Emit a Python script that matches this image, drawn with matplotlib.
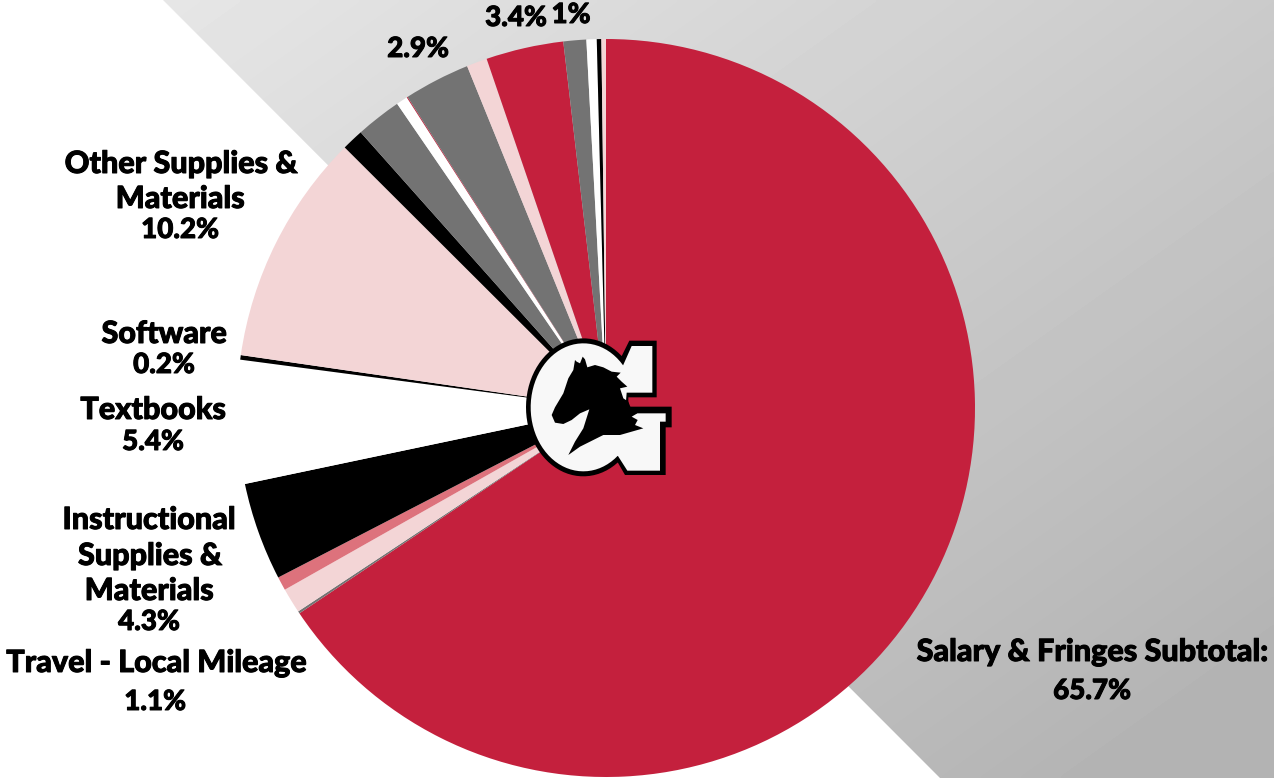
import matplotlib
matplotlib.use("Agg")
import matplotlib.pyplot as plt
import matplotlib.patheffects as pe
from matplotlib.patches import Polygon
import numpy as np

# slices clockwise from 12 o'clock
categories = ["Salary & Fringes", "Other Salary", "Travel - Local Mileage", "Travel - Other",
              "Instructional Supplies & Materials", "Textbooks", "Software",
              "Other Supplies & Materials", "Equipment", "Services A", "Services B", "Services C",
              "Services D", "Services E", "Services F", "Services G", "Services H", "Services I",
              "Services J"]
values = [65.7, 0.1, 1.1, 0.6, 4.3, 5.4, 0.2, 10.2, 0.95, 2.0, 0.5, 0.04, 2.9, 0.9, 3.4, 1.0, 0.45, 0.2, 0.2]
RED, PINK, ROSE, GREY = "#c4203d", "#f3d5d6", "#dd727c", "#737373"
slice_colors = [RED, GREY, PINK, ROSE, "black", "white", "black", PINK, "black", GREY,
                "white", RED, GREY, PINK, RED, GREY, "white", "black", PINK]

label_texts = ["Other Supplies &", "Materials", "10.2%", "Software", "0.2%", "Textbooks", "5.4%",
               "Instructional", "Supplies &", "Materials", "4.3%", "Travel - Local Mileage", "1.1%",
               "Salary & Fringes Subtotal:", "65.7%", "2.9%", "3.4%", "1%"]
label_x = [181, 180, 180, 164, 164, 153, 153, 149, 150, 149, 149, 156, 155, 1092, 1092, 418, 516, 571]
label_y = [164, 199, 230, 334, 365, 410, 442, 520, 556, 591, 622, 663, 702, 652, 691, 49, 18, 15]

W, H = 1274, 778

fig = plt.figure(figsize=(W / 100, H / 100), dpi=100, facecolor="white")
ax = fig.add_axes([0, 0, 1, 1])

# grey backdrop, everything right of the diagonal, y counted from the top
xx, yy = np.meshgrid(np.linspace(0, W, 320), np.linspace(0, H, 200))
shade = np.clip(230 - 0.025 * (xx - 163) - 0.035 * yy, 179, 235)
img = ax.imshow(shade, extent=[0, W, 0, H], cmap="gray", vmin=0, vmax=255, origin="upper",
                interpolation="bilinear", zorder=0)
clip = Polygon([(163, H), (W, H), (W, 0), (940, 0)], transform=ax.transData, fc="none", ec="none")
ax.add_patch(clip)
img.set_clip_path(clip)

ax.pie(values, colors=slice_colors, startangle=90, counterclock=False, center=(606, H - 408),
       radius=369, wedgeprops={"linewidth": 0, "zorder": 2}, normalize=True)


def logo(pts, **kw):
    p = np.array(pts, dtype=float)
    xy = np.column_stack([500 + p[:, 0] / 3, H - (320 + p[:, 1] / 3)])
    ax.add_patch(Polygon(xy, closed=True, lw=0, zorder=3, **kw))


def arc(rx, ry, t0, t1):
    t = np.radians(np.linspace(t0, t1, 60))
    return list(zip(250 + rx * np.cos(t), 262 - ry * np.sin(t)))


g_outer = [(388, 62), (470, 62), (470, 232), (385, 232), (385, 260), (515, 260), (515, 322), (497, 322),
           (497, 465), (375, 465), (352, 425)] + arc(172, 207, 307, 48)
g_inner = [(395, 78), (457, 78), (457, 218), (380, 218), (375, 280), (497, 280), (497, 305), (480, 305),
           (480, 452), (382, 452), (352, 405)] + arc(158, 192, 311, 41)
horse = [(155, 285), (165, 262), (190, 220), (205, 175), (220, 150), (225, 120), (230, 125), (240, 130),
         (248, 110), (255, 118), (262, 142), (285, 135), (310, 142), (335, 155), (362, 158), (350, 170),
         (365, 185), (382, 200), (360, 205), (370, 235), (385, 245), (395, 270), (412, 280), (395, 290),
         (413, 300), (405, 315), (430, 325), (395, 335), (360, 345), (310, 345), (270, 365), (240, 380),
         (205, 405), (225, 365), (250, 325), (268, 268), (240, 280), (215, 300), (190, 312), (165, 308)]
logo(g_outer, fc="black")
logo(g_inner, fc="#f8f8f8")
logo(horse, fc="black")

for t, x, y in zip(label_texts, label_x, label_y):
    size = 20 if t.endswith("%") else 22
    ax.text(x, H - y, t, ha="center", va="center", fontsize=size, family="Lato", fontweight="black",
            color="black", zorder=5, path_effects=[pe.withStroke(linewidth=0.7, foreground="black")])

ax.set_xlim(0, W)
ax.set_ylim(0, H)
ax.set_aspect("equal")
ax.axis("off")
fig.savefig("out.png", dpi=100)
